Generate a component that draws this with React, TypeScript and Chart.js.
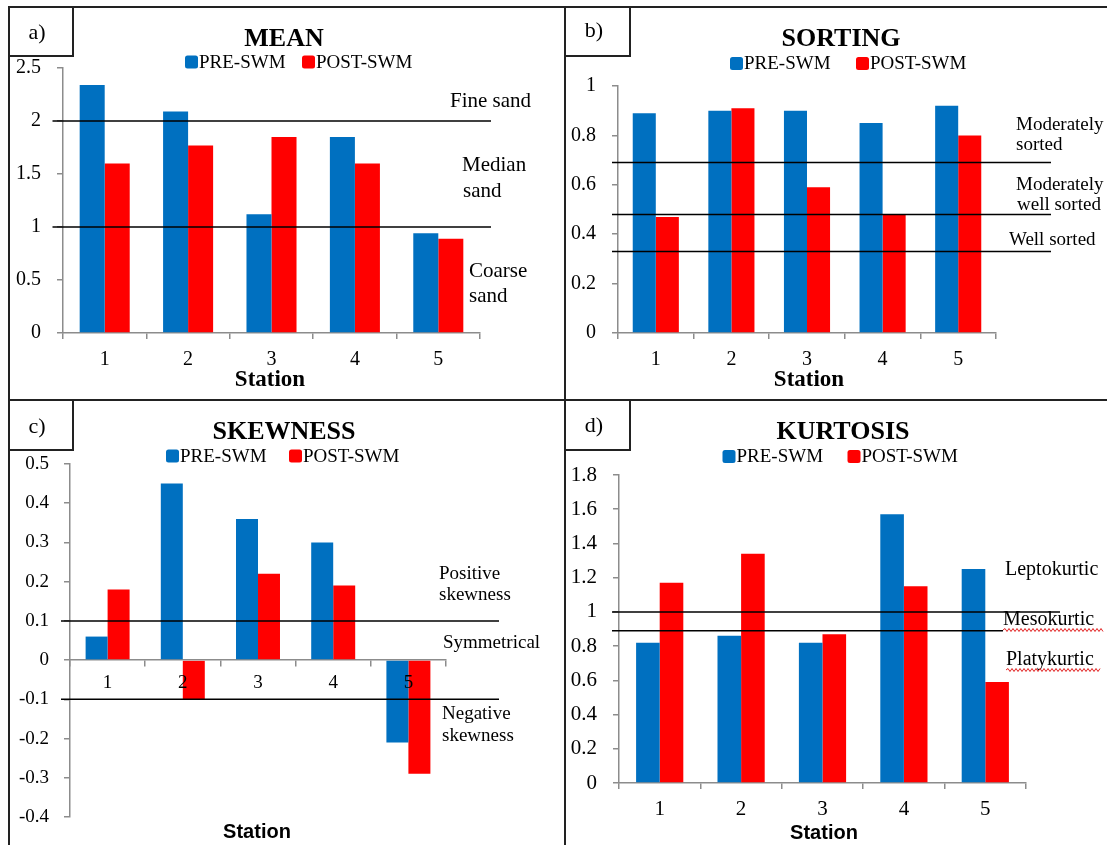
import React, { useEffect, useRef } from 'react';
import { Chart, registerables } from 'chart.js';

Chart.register(...registerables);

// ---------------- data ----------------
const stations = ['1', '2', '3', '4', '5'];
const seriesNames = ['PRE-SWM', 'POST-SWM'];

const meanPre = [2.34, 2.09, 1.12, 1.85, 0.94];
const meanPost = [1.6, 1.77, 1.85, 1.6, 0.89];

const sortingPre = [0.89, 0.9, 0.9, 0.85, 0.92];
const sortingPost = [0.47, 0.91, 0.59, 0.48, 0.8];

const skewPre = [0.06, 0.45, 0.36, 0.3, -0.21];
const skewPost = [0.18, -0.1, 0.22, 0.19, -0.29];

const kurtPre = [0.82, 0.86, 0.82, 1.57, 1.25];
const kurtPost = [1.17, 1.34, 0.87, 1.15, 0.59];

const meanClassBounds = [2, 1];
const sortingClassBounds = [0.69, 0.48, 0.33];
const skewClassBounds = [0.1, -0.1];
const kurtClassBounds = [1.0, 0.89];

// ---------------- styles ----------------
const BLUE = '#0070C0';
const RED = '#FF0000';
const AXIS = '#8c8c8c';
const SERIF = '"Liberation Serif", "Times New Roman", serif';
const SANS = '"Liberation Sans", Arial, sans-serif';

type Note = { t: string; x: number; y: number };
type RefLine = { v: number; x1: number; x2: number };
type Panel = {
  key: string;
  left: number; top: number; width: number; height: number;
  title: string; titleX: number; titleY: number;
  legendXs: number[]; legendY: number;
  stationFont: string; stationX: number; stationY: number;
  pre: number[]; post: number[];
  yMin: number; yMax: number; yStep: number;
  area: { left: number; top: number; right: number; bottom: number };
  tickSize: number; xPad: number; zeroAxis: boolean; catPct: number;
  lines: RefLine[]; noteFont: string; notes: Note[];
  squiggles: { x1: number; x2: number; y: number }[];
};

const panels: Panel[] = [
  {
    key: 'a', left: 10, top: 8, width: 554, height: 391,
    title: 'MEAN', titleX: 274, titleY: 31,
    legendXs: [175, 292], legendY: 54,
    stationFont: `bold 23px ${SERIF}`, stationX: 260, stationY: 372,
    pre: meanPre, post: meanPost, yMin: 0, yMax: 2.5, yStep: 0.5,
    area: { left: 53, top: 60, right: 470, bottom: 325 },
    tickSize: 20, xPad: 9, zeroAxis: false, catPct: 0.6,
    lines: meanClassBounds.map((v) => ({ v, x1: -10.5, x2: 11 })),
    noteFont: `21px ${SERIF}`,
    notes: [
      { t: 'Fine sand', x: 440, y: 99 },
      { t: 'Median', x: 452, y: 163 },
      { t: 'sand', x: 453, y: 189 },
      { t: 'Coarse', x: 459, y: 269 },
      { t: 'sand', x: 459, y: 294 },
    ],
    squiggles: [],
  },
  {
    key: 'b', left: 566, top: 8, width: 541, height: 391,
    title: 'SORTING', titleX: 275, titleY: 31,
    legendXs: [164, 290], legendY: 55.5,
    stationFont: `bold 23px ${SERIF}`, stationX: 243, stationY: 372,
    pre: sortingPre, post: sortingPost, yMin: 0, yMax: 1, yStep: 0.2,
    area: { left: 52, top: 78, right: 430, bottom: 325 },
    tickSize: 20, xPad: 9, zeroAxis: false, catPct: 0.61,
    lines: sortingClassBounds.map((v) => ({ v, x1: -6, x2: 55 })),
    noteFont: `19px ${SERIF}`,
    notes: [
      { t: 'Moderately', x: 450, y: 122 },
      { t: 'sorted', x: 450, y: 142 },
      { t: 'Moderately', x: 450, y: 182 },
      { t: 'well sorted', x: 451, y: 202 },
      { t: 'Well sorted', x: 443, y: 237 },
    ],
    squiggles: [],
  },
  {
    key: 'c', left: 10, top: 401, width: 554, height: 444,
    title: 'SKEWNESS', titleX: 274, titleY: 31.5,
    legendXs: [156, 279], legendY: 55,
    stationFont: `bold 20px ${SANS}`, stationX: 247, stationY: 431,
    pre: skewPre, post: skewPost, yMin: -0.4, yMax: 0.5, yStep: 0.1,
    area: { left: 60, top: 63, right: 436, bottom: 416 },
    tickSize: 19, xPad: 6, zeroAxis: true, catPct: 0.585,
    lines: skewClassBounds.map((v) => ({ v, x1: -9, x2: 53 })),
    noteFont: `19px ${SERIF}`,
    notes: [
      { t: 'Positive', x: 429, y: 178 },
      { t: 'skewness', x: 429, y: 199 },
      { t: 'Symmetrical', x: 433, y: 247 },
      { t: 'Negative', x: 432, y: 318 },
      { t: 'skewness', x: 432, y: 340 },
    ],
    squiggles: [],
  },
  {
    key: 'd', left: 566, top: 401, width: 541, height: 444,
    title: 'KURTOSIS', titleX: 277, titleY: 31.5,
    legendXs: [156.5, 281.5], legendY: 55.5,
    stationFont: `bold 20px ${SANS}`, stationX: 258, stationY: 432,
    pre: kurtPre, post: kurtPost, yMin: 0, yMax: 1.8, yStep: 0.2,
    area: { left: 53, top: 74, right: 460, bottom: 382 },
    tickSize: 21, xPad: 8, zeroAxis: false, catPct: 0.58,
    lines: [
      { v: kurtClassBounds[0], x1: -7, x2: 34 },
      { v: kurtClassBounds[1], x1: -7, x2: -23 },
    ],
    noteFont: `20px ${SERIF}`,
    notes: [
      { t: 'Leptokurtic', x: 439, y: 174 },
      { t: 'Mesokurtic', x: 437, y: 224 },
      { t: 'Platykurtic', x: 440, y: 264 },
    ],
    squiggles: [
      { x1: 437, x2: 537, y: 229 },
      { x1: 440, x2: 535, y: 269 },
    ],
  },
];

const fmt = (v: any) => String(Number(Number(v).toFixed(2)));

function makeOverlay(p: Panel) {
  return {
    id: 'overlay_' + p.key,
    afterDraw(chart: any) {
      const ctx = chart.ctx as CanvasRenderingContext2D;
      const ca = chart.chartArea;
      const ys = chart.scales.y;
      ctx.save();
      // class boundary lines
      ctx.strokeStyle = '#000';
      ctx.lineWidth = 1.5;
      for (const l of p.lines) {
        const y = ys.getPixelForValue(l.v);
        ctx.beginPath();
        ctx.moveTo(ca.left + l.x1, y);
        ctx.lineTo(ca.right + l.x2, y);
        ctx.stroke();
      }
      // title
      ctx.fillStyle = '#000';
      ctx.font = `bold 26px ${SERIF}`;
      ctx.textAlign = 'center';
      ctx.textBaseline = 'middle';
      ctx.fillText(p.title, p.titleX, p.titleY);
      // legend
      ctx.font = `19px ${SERIF}`;
      ctx.textAlign = 'left';
      chart.data.datasets.forEach((ds: any, i: number) => {
        const x = p.legendXs[i];
        ctx.fillStyle = ds.backgroundColor;
        ctx.beginPath();
        (ctx as any).roundRect(x, p.legendY - 6.5, 13, 13, 2.5);
        ctx.fill();
        ctx.fillStyle = '#000';
        ctx.fillText(ds.label, x + 14, p.legendY + 1);
      });
      // station label
      ctx.font = p.stationFont;
      ctx.textAlign = 'center';
      ctx.fillText('Station', p.stationX, p.stationY);
      // notes
      ctx.font = p.noteFont;
      ctx.textAlign = 'left';
      ctx.textBaseline = 'alphabetic';
      for (const n of p.notes) ctx.fillText(n.t, n.x, n.y);
      // spell-check squiggles
      ctx.strokeStyle = '#e02020';
      ctx.lineWidth = 1;
      for (const s of p.squiggles) {
        ctx.beginPath();
        let up = true;
        ctx.moveTo(s.x1, s.y);
        for (let x = s.x1 + 2; x <= s.x2; x += 2) {
          ctx.lineTo(x, s.y + (up ? -1.5 : 1.5));
          up = !up;
        }
        ctx.stroke();
      }
      ctx.restore();
    },
  };
}

function PanelChart({ p }: { p: Panel }) {
  const ref = useRef<HTMLCanvasElement | null>(null);
  useEffect(() => {
    if (!ref.current) return;
    const xScale: any = {
      type: 'category',
      position: p.zeroAxis ? { y: 0 } : 'bottom',
      offset: true,
      grid: { offset: true, drawOnChartArea: false, drawTicks: true, tickLength: 6, color: AXIS, lineWidth: 1.5 },
      border: { display: true, color: AXIS, width: 1.5 },
      ticks: {
        font: { family: SERIF, size: p.tickSize },
        color: '#000',
        padding: p.xPad,
        autoSkip: false,
        maxRotation: 0,
        z: p.zeroAxis ? 1 : 0,
      },
    };
    if (!p.zeroAxis) {
      xScale.afterFit = (s: any) => { s.height = p.height - p.area.bottom; };
    }
    const chart = new Chart(ref.current, {
      type: 'bar',
      data: {
        labels: stations,
        datasets: [
          { label: seriesNames[0], data: p.pre, backgroundColor: BLUE, borderWidth: 0, categoryPercentage: p.catPct, barPercentage: 1 },
          { label: seriesNames[1], data: p.post, backgroundColor: RED, borderWidth: 0, categoryPercentage: p.catPct, barPercentage: 1 },
        ],
      },
      options: {
        animation: false,
        responsive: false,
        devicePixelRatio: 1,
        layout: {
          padding: {
            left: 0,
            top: p.area.top,
            right: p.width - p.area.right,
            bottom: p.zeroAxis ? p.height - p.area.bottom : 0,
          },
        },
        plugins: { legend: { display: false }, title: { display: false }, tooltip: { enabled: false } },
        scales: {
          x: xScale,
          y: {
            min: p.yMin,
            max: p.yMax,
            ticks: {
              stepSize: p.yStep,
              callback: fmt,
              font: { family: SERIF, size: p.tickSize },
              color: '#000',
              padding: p.key === 'c' ? 15 : 16,
            },
            grid: { drawOnChartArea: false, drawTicks: true, tickLength: 6, color: AXIS, lineWidth: 1.5 },
            border: { display: true, color: AXIS, width: 1.5 },
            afterFit: (s: any) => { s.width = p.area.left; },
          },
        },
      } as any,
      plugins: [makeOverlay(p)],
    });
    return () => chart.destroy();
  }, [p]);
  return (
    <canvas
      ref={ref}
      width={p.width}
      height={p.height}
      style={{ position: 'absolute', left: p.left, top: p.top, width: p.width, height: p.height, display: 'block' }}
    />
  );
}

const LINE = '#222';

export default function App() {
  const labelBoxes = [
    { t: 'a)', left: 8, top: 6, w: 66, h: 51, cx: 37, cy: 32 },
    { t: 'b)', left: 564, top: 6, w: 67, h: 51, cx: 594, cy: 30 },
    { t: 'c)', left: 8, top: 399, w: 66, h: 52, cx: 37, cy: 426 },
    { t: 'd)', left: 564, top: 399, w: 67, h: 52, cx: 594, cy: 425 },
  ];
  return (
    <div style={{ position: 'absolute', left: 0, top: 0, width: 1107, height: 845, overflow: 'hidden', background: '#fff' }}>
      {panels.map((p) => (
        <PanelChart key={p.key} p={p} />
      ))}
      {/* frame lines */}
      <div style={{ position: 'absolute', left: 8, top: 6, width: 1120, height: 2, background: LINE }} />
      <div style={{ position: 'absolute', left: 8, top: 6, width: 2, height: 860, background: LINE }} />
      <div style={{ position: 'absolute', left: 564, top: 6, width: 2, height: 860, background: LINE }} />
      <div style={{ position: 'absolute', left: 8, top: 399, width: 1120, height: 2, background: LINE }} />
      {labelBoxes.map((b) => (
        <React.Fragment key={b.t}>
          <div
            style={{
              position: 'absolute', left: b.left, top: b.top, width: b.w, height: b.h,
              boxSizing: 'border-box', borderRight: `2px solid ${LINE}`, borderBottom: `2px solid ${LINE}`,
            }}
          />
          <div
            style={{
              position: 'absolute', left: b.cx - 30, top: b.cy - 12, width: 60, height: 24,
              lineHeight: '24px', textAlign: 'center', fontFamily: SERIF, fontSize: 22, color: '#000',
            }}
          >
            {b.t}
          </div>
        </React.Fragment>
      ))}
    </div>
  );
}
